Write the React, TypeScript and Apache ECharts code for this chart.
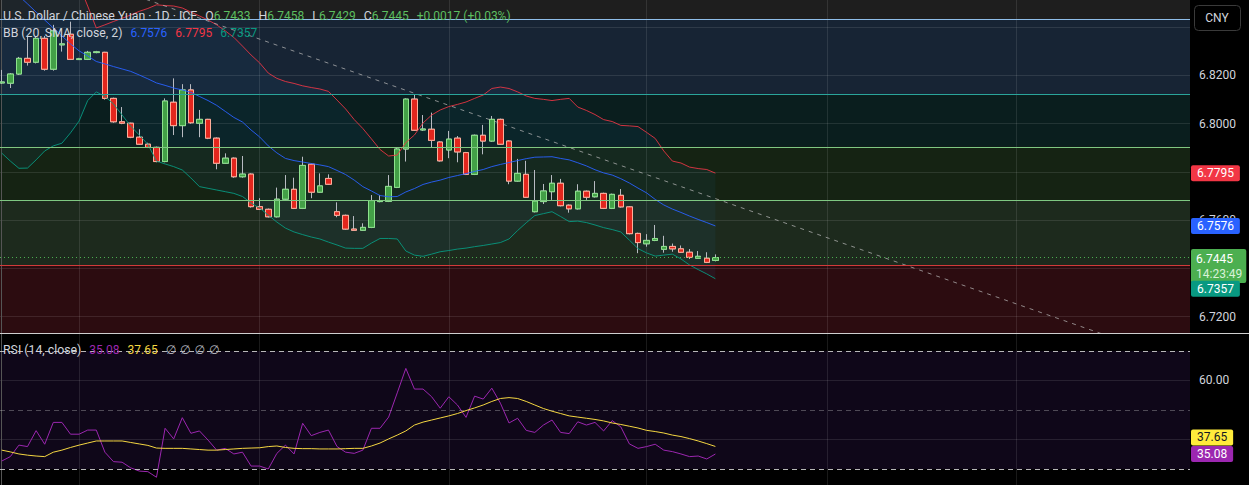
import React, { useEffect, useRef } from "react";
import * as echarts from "echarts";

// ---------- data ----------
const OPEN = [
  6.8169, 6.8168, 6.8206, 6.8271, 6.8255, 6.8354, 6.8226, 6.8327, 6.8371, 6.8266,
  6.8267, 6.8295, 6.8296, 6.8105, 6.8008, 6.8002, 6.7944, 6.7915, 6.7902, 6.7843,
  6.8089, 6.7992, 6.814, 6.8002, 6.8018, 6.794, 6.7836, 6.7857, 6.778, 6.7791,
  6.7656, 6.7645, 6.7614, 6.7687, 6.7728, 6.7649, 6.7832, 6.7716, 6.7773, 6.7635,
  6.762, 6.7563, 6.7558, 6.757, 6.7677, 6.7678, 6.7736, 6.7895, 6.8102, 6.7974,
  6.7977, 6.7924, 6.7891, 6.794, 6.788, 6.779, 6.7952, 6.7928, 6.8018, 6.7928,
  6.7762, 6.779, 6.7635, 6.7677, 6.7718, 6.7753, 6.7662, 6.7647, 6.772, 6.7697,
  6.7711, 6.7649, 6.7703, 6.7655, 6.7545, 6.7502, 6.7516, 6.7479, 6.7491, 6.7481,
  6.7467, 6.7442, 6.7442, 6.7433,
];
const CLOSE = [
  6.8173, 6.8206, 6.8271, 6.8255, 6.8354, 6.8226, 6.8385, 6.8331, 6.8267, 6.8269,
  6.8296, 6.8298, 6.8105, 6.8008, 6.8002, 6.7944, 6.7915, 6.7902, 6.7843, 6.8094,
  6.7992, 6.814, 6.8004, 6.8018, 6.794, 6.7836, 6.7857, 6.778, 6.7791, 6.7656,
  6.7645, 6.7614, 6.7687, 6.7728, 6.7649, 6.7827, 6.7716, 6.7742, 6.7749, 6.762,
  6.7563, 6.7558, 6.757, 6.7681, 6.7681, 6.774, 6.7895, 6.8102, 6.7973, 6.7978,
  6.7931, 6.7846, 6.7936, 6.7883, 6.779, 6.7952, 6.7928, 6.8018, 6.7915, 6.7762,
  6.7794, 6.7695, 6.7679, 6.7721, 6.7753, 6.766, 6.7647, 6.772, 6.7695, 6.7711,
  6.7649, 6.7707, 6.7655, 6.7544, 6.7507, 6.7516, 6.7524, 6.7491, 6.7481, 6.7467,
  6.7446, 6.745, 6.7425, 6.7445,
];
const LOW = [
  6.8165, 6.8148, 6.8202, 6.8241, 6.825, 6.822, 6.822, 6.8299, 6.8264, 6.8264,
  6.8264, 6.8292, 6.81, 6.8004, 6.7998, 6.794, 6.7912, 6.7899, 6.784, 6.784,
  6.7953, 6.7944, 6.8, 6.7944, 6.7936, 6.7811, 6.7833, 6.7776, 6.7776, 6.7652,
  6.7642, 6.7611, 6.7611, 6.7684, 6.7646, 6.7646, 6.7691, 6.7713, 6.7746, 6.7612,
  6.756, 6.7555, 6.7555, 6.7567, 6.7674, 6.7675, 6.7733, 6.7843, 6.797, 6.797,
  6.7902, 6.7843, 6.7857, 6.784, 6.7787, 6.7787, 6.7873, 6.7925, 6.7912, 6.7749,
  6.7759, 6.7692, 6.7632, 6.7667, 6.7684, 6.7657, 6.7631, 6.7644, 6.7684, 6.7694,
  6.7646, 6.7646, 6.7652, 6.7541, 6.7463, 6.749, 6.7513, 6.7465, 6.7469, 6.7464,
  6.7439, 6.7439, 6.7422, 6.7429,
];
const HIGH = [
  6.8223, 6.821, 6.8277, 6.8361, 6.836, 6.8364, 6.841, 6.8368, 6.8423, 6.8273,
  6.8302, 6.8302, 6.8298, 6.8108, 6.8069, 6.8004, 6.7977, 6.7921, 6.7905, 6.8105,
  6.8188, 6.8164, 6.8164, 6.8057, 6.802, 6.7943, 6.7877, 6.786, 6.7866, 6.7794,
  6.7691, 6.7648, 6.7735, 6.7787, 6.7776, 6.7863, 6.7835, 6.7794, 6.779, 6.7674,
  6.7623, 6.7617, 6.7587, 6.7704, 6.7704, 6.7787, 6.7902, 6.8105, 6.8122, 6.8036,
  6.8046, 6.7927, 6.797, 6.7949, 6.7883, 6.7955, 6.7995, 6.8032, 6.8021, 6.7931,
  6.7854, 6.7846, 6.7808, 6.775, 6.7787, 6.7771, 6.7665, 6.7749, 6.7723, 6.7762,
  6.7714, 6.771, 6.7729, 6.7658, 6.7548, 6.7542, 6.758, 6.7535, 6.7503, 6.7495,
  6.748, 6.7472, 6.7467, 6.7458,
];
const BB_BASIS = [
  6.8596, 6.8563, 6.853, 6.8497, 6.8463, 6.843, 6.8397, 6.8364, 6.8331, 6.8302,
  6.8281, 6.8258, 6.8248, 6.8237, 6.8227, 6.8217, 6.8202, 6.8186, 6.8169, 6.8159,
  6.8148, 6.814, 6.813, 6.8113, 6.8096, 6.8076, 6.8051, 6.8026, 6.8007, 6.7974,
  6.7945, 6.7908, 6.7879, 6.7856, 6.7847, 6.7841, 6.7835, 6.7829, 6.7822, 6.7806,
  6.7789, 6.7766, 6.7739, 6.7721, 6.7702, 6.7697, 6.7698, 6.7717, 6.7731, 6.7748,
  6.7758, 6.7766, 6.7777, 6.7785, 6.7793, 6.7802, 6.781, 6.7822, 6.7831, 6.7839,
  6.7847, 6.7855, 6.7861, 6.7862, 6.7863, 6.7856, 6.785, 6.7838, 6.7825, 6.7809,
  6.7796, 6.7787, 6.7772, 6.7754, 6.7733, 6.7713, 6.7686, 6.7663, 6.7646, 6.7632,
  6.7617, 6.7603, 6.759, 6.7576,
];
const BB_UPPER = [
  6.9327, 6.9281, 6.9219, 6.9177, 6.9053, 6.8949, 6.8887, 6.8808, 6.87, 6.8576,
  6.8488, 6.8397, 6.841, 6.8424, 6.8437, 6.8451, 6.8466, 6.8478, 6.8493, 6.849,
  6.8488, 6.848, 6.8463, 6.8447, 6.843, 6.841, 6.8385, 6.8358, 6.8322, 6.8285,
  6.8252, 6.821, 6.8188, 6.8175, 6.8167, 6.8157, 6.815, 6.8144, 6.8134, 6.8098,
  6.8061, 6.8017, 6.798, 6.7937, 6.7893, 6.7866, 6.787, 6.7922, 6.7953, 6.8003,
  6.8036, 6.8057, 6.8071, 6.808, 6.809, 6.8105, 6.8119, 6.8146, 6.8152, 6.8146,
  6.8132, 6.8115, 6.8105, 6.8101, 6.8096, 6.8101, 6.8105, 6.8069, 6.8055, 6.8038,
  6.8017, 6.8009, 6.7993, 6.7991, 6.7988, 6.7964, 6.7939, 6.7887, 6.7845, 6.7837,
  6.782, 6.7814, 6.781, 6.7795,
];
const BB_LOWER = [
  6.7878, 6.7845, 6.7815, 6.7816, 6.785, 6.7887, 6.7908, 6.7919, 6.7962, 6.8011,
  6.8096, 6.8132, 6.8113, 6.8082, 6.8036, 6.799, 6.7953, 6.7914, 6.7845, 6.7833,
  6.7822, 6.7808, 6.7775, 6.7739, 6.7732, 6.7725, 6.7718, 6.7711, 6.7698, 6.7671,
  6.765, 6.7621, 6.7592, 6.7567, 6.7551, 6.754, 6.753, 6.7522, 6.7509, 6.7497,
  6.7484, 6.7483, 6.7483, 6.7505, 6.7524, 6.7524, 6.7522, 6.7472, 6.7455, 6.745,
  6.7459, 6.7469, 6.7474, 6.748, 6.7484, 6.749, 6.7495, 6.7501, 6.7507, 6.7522,
  6.7557, 6.7589, 6.7619, 6.7627, 6.7635, 6.7615, 6.7594, 6.7596, 6.759, 6.758,
  6.7569, 6.7561, 6.7551, 6.7517, 6.7482, 6.7464, 6.7451, 6.7455, 6.7459, 6.7439,
  6.7414, 6.7395, 6.7377, 6.7357,
];
const RSI = [
  32.7, 34.2, 38.1, 37.6, 43.0, 38.4, 45.8, 45.8, 41.8, 41.8,
  43.2, 43.2, 35.7, 32.5, 32.3, 30.4, 29.3, 29.1, 27.2, 43.8,
  40.2, 47.4, 42.1, 42.9, 39.8, 36.4, 37.0, 35.1, 35.7, 31.0,
  31.0, 30.0, 35.3, 38.1, 35.1, 45.5, 41.3, 42.4, 43.2, 37.6,
  35.7, 35.3, 36.4, 43.8, 43.8, 47.6, 55.8, 64.1, 57.1, 57.1,
  54.5, 50.6, 54.5, 51.7, 47.5, 54.7, 53.7, 57.4, 52.3, 45.6,
  47.2, 43.1, 42.4, 44.9, 46.6, 42.4, 42.0, 46.0, 44.9, 45.8,
  42.9, 46.4, 44.3, 38.5, 37.0, 37.6, 38.4, 36.4, 35.9, 35.1,
  34.2, 34.4, 33.4, 35.08,
];
const RSI_MA = [
  36.4, 35.8, 35.1, 34.7, 34.4, 34.2, 35.7, 36.4, 37.3, 38.1,
  38.8, 39.5, 39.5, 39.5, 39.5, 39.0, 38.5, 38.0, 37.1, 37.0,
  37.0, 37.0, 36.8, 36.6, 36.4, 36.4, 36.6, 36.8, 37.0, 37.1,
  37.2, 37.6, 37.8, 37.3, 37.0, 36.9, 36.9, 36.8, 36.8, 36.8,
  36.9, 37.0, 37.0, 37.8, 38.8, 40.2, 41.5, 42.9, 44.9, 45.9,
  46.6, 47.3, 48.0, 48.8, 49.8, 50.7, 51.7, 52.9, 53.9, 54.2,
  53.9, 52.9, 51.7, 50.5, 49.6, 48.8, 48.0, 47.6, 47.2, 46.8,
  46.3, 45.6, 45.1, 44.5, 43.9, 43.1, 42.7, 42.2, 41.5, 41.0,
  40.3, 39.5, 38.6, 37.65,
];
const PRICE_TICKS = [6.72, 6.74, 6.76, 6.78, 6.8, 6.82, 6.84];
// tick labels visible in the picture (the others sit under the value tags)
const PRICE_LABELS = [6.72, 6.76, 6.8, 6.82];
const RSI_TICKS = [40, 60];
const RSI_LABELS = [60];
const RSI_BANDS = [70, 50, 30];
const MONTH_STARTS = [9, 30, 52, 75, 96, 118];
const FIB_LEVELS = [6.8434, 6.8123, 6.7904, 6.7684, 6.7414];
const TREND = [
  [0, 6.8725],
  [130, 6.7103],
];
const SYMBOL_TITLE = "U.S. Dollar / Chinese Yuan · 1D · ICE";
const BB_TITLE = "BB (20, SMA, close, 2)";
const RSI_TITLE = "RSI (14, close)";
const CHANGE_TEXT = "+0.0017 (+0.03%)";
const TIMER = "14:23:49";
const CURRENCY = "CNY";

// ---------- layout & style ----------
const W = 1249;
const H = 485;
const PLOT_W = 1190;
const MAIN_TOP = 0;
const MAIN_H = 333;
const RSI_TOP = 334;
const RSI_H = 151;
const Y_MIN = 6.7132;
const Y_MAX = 6.8513;
const R_MIN = 24.58;
const R_MAX = 75.76;
const X_MIN = -0.2;
const X_MAX = 138.2;
const PX_PRICE = (Y_MAX - Y_MIN) / MAIN_H;
const PX_RSI = (R_MAX - R_MIN) / RSI_H;

const FONT = 'Roboto, "Noto Sans", "DejaVu Sans", sans-serif';
const GRID_COLOR = "rgba(255,255,255,0.1)";
const TEXT = "#d1d4dc";
const NONE = "rgba(0,0,0,0)";
const FIB_COLORS = ["#8fbde8", "#2aa59b", "#7fc882", "#7fc882", "#d23a3a"];
const ZONE_FILLS = ["#172434", "#0a1e1e", "#152313", "#1d2a1d", "#2c0c10"];
const UP = "#4caf50";
const C_UPPER = "#f23645";
const C_BASIS = "#2962ff";
const C_LOWER = "#089981";
const C_RSI = "#9c27b0";
const C_RSI_MA = "#f5d742";
const WORD_SIZE = 12.3;
const NUM_SIZE = 12;

const pairs = (arr: number[]) => arr.map((v, i) => [i, v]);

function buildOption() {
  const last = OPEN.length - 1;
  const candleFull = OPEN.map((o, i) => [i, o, CLOSE[i], LOW[i], HIGH[i]]);
  const candleBody = OPEN.map((o, i) => [
    i,
    o,
    CLOSE[i],
    Math.min(o, CLOSE[i]),
    Math.max(o, CLOSE[i]),
  ]);

  const zoneBounds = [...FIB_LEVELS, Y_MIN];
  const zones = ZONE_FILLS.map((c, k) => [
    { yAxis: zoneBounds[k + 1], itemStyle: { color: c } },
    { yAxis: zoneBounds[k] },
  ]);
  const fibLines = FIB_LEVELS.map((v, k) => ({
    yAxis: v,
    lineStyle: { color: FIB_COLORS[k], width: 1, type: "solid" },
    label: { show: false },
  }));

  const tag = (
    text: string,
    at: number,
    bg: string,
    fg = "#ffffff",
    extra: any = {}
  ) => ({
    yAxis: at,
    lineStyle: { color: NONE, width: 0 },
    label: {
      show: true,
      position: "end",
      distance: 1,
      formatter: text,
      backgroundColor: bg,
      color: fg,
      opacity: 1,
      fontFamily: FONT,
      fontSize: 12,
      lineHeight: 14,
      padding: [1, 6, 1, 6],
      borderRadius: 2,
      ...extra,
    },
  });

  const xAxisCfg = (gridIndex: number) => ({
    type: "value",
    gridIndex,
    min: X_MIN,
    max: X_MAX,
    axisLine: { show: false },
    axisLabel: { show: false },
    axisTick: { show: false, customValues: MONTH_STARTS },
    splitLine: { show: true, lineStyle: { color: GRID_COLOR, width: 1 } },
    z: 1.5,
  });

  const lastClose = CLOSE[last];
  const numRich = (fill: string) => ({ fill, fontSize: NUM_SIZE, fontFamily: FONT });
  const wordRich = (fill: string) => ({ fill, fontSize: WORD_SIZE, fontFamily: FONT });

  return {
    animation: false,
    backgroundColor: "#000000",
    grid: [
      {
        left: 0,
        top: MAIN_TOP,
        width: PLOT_W,
        height: MAIN_H,
        show: true,
        backgroundColor: "#1e1e1e",
        borderWidth: 0,
      },
      {
        left: 0,
        top: RSI_TOP,
        width: PLOT_W,
        height: RSI_H,
        show: true,
        backgroundColor: "#000000",
        borderWidth: 0,
      },
    ],
    xAxis: [xAxisCfg(0), xAxisCfg(1)],
    yAxis: [
      {
        type: "value",
        gridIndex: 0,
        position: "right",
        min: Y_MIN,
        max: Y_MAX,
        axisLine: { show: true, lineStyle: { color: "#555555" } },
        axisTick: { show: false, customValues: PRICE_TICKS },
        axisLabel: {
          show: true,
          customValues: PRICE_LABELS,
          formatter: (v: number) => v.toFixed(4),
          color: TEXT,
          fontFamily: FONT,
          fontSize: 12,
          margin: 9,
        },
        splitLine: { show: true, lineStyle: { color: GRID_COLOR } },
        z: 1.5,
      },
      {
        type: "value",
        gridIndex: 1,
        position: "right",
        min: R_MIN,
        max: R_MAX,
        axisLine: { show: true, lineStyle: { color: "#555555" } },
        axisTick: { show: false, customValues: RSI_TICKS },
        axisLabel: {
          show: true,
          customValues: RSI_LABELS,
          formatter: (v: number) => v.toFixed(2),
          color: TEXT,
          fontFamily: FONT,
          fontSize: 12,
          margin: 9,
        },
        splitLine: { show: true, lineStyle: { color: GRID_COLOR } },
        z: 1.5,
      },
    ],
    series: [
      {
        name: "zones",
        type: "line",
        xAxisIndex: 0,
        yAxisIndex: 0,
        data: [],
        symbol: "none",
        silent: true,
        markArea: { silent: true, precision: 6, data: zones },
        markLine: {
          silent: true,
          precision: 6,
          symbol: ["none", "none"],
          label: { show: false },
          data: fibLines,
        },
      },
      {
        name: "bbFill",
        type: "custom",
        xAxisIndex: 0,
        yAxisIndex: 0,
        clip: true,
        silent: true,
        data: pairs(BB_BASIS),
        encode: { x: 0, y: 1 },
        renderItem: (params: any, api: any) => {
          if (params.dataIndex !== 0) return null;
          const top = BB_UPPER.map((v, i) => api.coord([i, v]));
          const bottom = BB_LOWER.map((v, i) => api.coord([i, v])).reverse();
          return {
            type: "polygon",
            shape: { points: top.concat(bottom) },
            style: { fill: "rgba(33,150,243,0.06)" },
          };
        },
      },
      {
        name: "upper",
        type: "line",
        data: pairs(BB_UPPER),
        symbol: "none",
        silent: true,
        lineStyle: { color: C_UPPER, width: 1, opacity: 0.85 },
      },
      {
        name: "basis",
        type: "line",
        data: pairs(BB_BASIS),
        symbol: "none",
        silent: true,
        lineStyle: { color: C_BASIS, width: 1, opacity: 0.9 },
      },
      {
        name: "lower",
        type: "line",
        data: pairs(BB_LOWER),
        symbol: "none",
        silent: true,
        lineStyle: { color: C_LOWER, width: 1, opacity: 0.9 },
      },
      {
        name: "wicks",
        type: "candlestick",
        data: candleFull,
        barWidth: 6,
        silent: true,
        itemStyle: {
          color: "#43a047",
          color0: "#e3261d",
          borderColor: "#b8bbc2",
          borderColor0: "#b8bbc2",
          borderWidth: 1,
        },
      },
      {
        name: "bodies",
        type: "candlestick",
        data: candleBody,
        barWidth: 6,
        silent: true,
        itemStyle: {
          color: "#43a047",
          color0: "#e3261d",
          borderColor: "#8de28d",
          borderColor0: "#ffae9a",
          borderWidth: 1,
        },
      },
      {
        name: "trend",
        type: "line",
        data: TREND,
        symbol: "none",
        silent: true,
        lineStyle: { color: "rgba(190,190,190,0.7)", width: 1, type: [4, 5] },
      },
      {
        name: "priceTags",
        type: "line",
        data: [[last, lastClose]],
        symbol: "none",
        showSymbol: false,
        clip: false,
        silent: true,
        lineStyle: { color: NONE, width: 0 },
        markLine: {
          silent: true,
          precision: 6,
          symbol: ["none", "none"],
          data: [
            {
              yAxis: lastClose,
              lineStyle: { color: UP, width: 1, type: [1, 3] },
              label: { show: false },
            },
            tag(BB_UPPER[last].toFixed(4), BB_UPPER[last], C_UPPER),
            tag(BB_BASIS[last].toFixed(4), BB_BASIS[last], C_BASIS),
            tag(
              `{a|${lastClose.toFixed(4)}}\n{b|${TIMER}}`,
              lastClose - 8.5 * PX_PRICE,
              UP,
              "#ffffff",
              {
                padding: [2, 4, 2, 5],
                rich: {
                  a: { color: "#ffffff", fontSize: 12, fontFamily: FONT, lineHeight: 15 },
                  b: { color: "#d9f2d9", fontSize: 12, fontFamily: FONT, lineHeight: 15 },
                },
              }
            ),
            tag(BB_LOWER[last].toFixed(4), BB_LOWER[last] - 10 * PX_PRICE, C_LOWER),
          ],
        },
      },
      {
        name: "rsiBand",
        type: "line",
        xAxisIndex: 1,
        yAxisIndex: 1,
        data: [],
        symbol: "none",
        silent: true,
        markArea: {
          silent: true,
          precision: 4,
          data: [
            [
              { yAxis: RSI_BANDS[2], itemStyle: { color: "#0f0719" } },
              { yAxis: RSI_BANDS[0] },
            ],
          ],
        },
      },
      {
        name: "RSI",
        type: "line",
        xAxisIndex: 1,
        yAxisIndex: 1,
        data: pairs(RSI),
        symbol: "none",
        silent: true,
        lineStyle: { color: C_RSI, width: 1 },
      },
      {
        name: "RSI MA",
        type: "line",
        xAxisIndex: 1,
        yAxisIndex: 1,
        data: pairs(RSI_MA),
        symbol: "none",
        silent: true,
        lineStyle: { color: C_RSI_MA, width: 1 },
      },
      {
        name: "rsiTags",
        type: "line",
        xAxisIndex: 1,
        yAxisIndex: 1,
        data: [[last, RSI[last]]],
        symbol: "none",
        showSymbol: false,
        clip: false,
        silent: true,
        lineStyle: { color: NONE, width: 0 },
        markLine: {
          silent: true,
          precision: 4,
          symbol: ["none", "none"],
          data: [
            ...RSI_BANDS.map((v, k) => ({
              yAxis: v,
              lineStyle: {
                color: k === 1 ? "rgba(200,200,200,0.35)" : "rgba(215,215,215,0.85)",
                width: 1,
                type: [5, 4],
              },
              label: { show: false },
            })),
            tag(RSI_MA[last].toFixed(2), RSI_MA[last] + 9 * PX_RSI, "#ffeb3b", "#131722"),
            tag(RSI[last].toFixed(2), RSI[last], C_RSI),
          ],
        },
      },
    ],
    graphic: [
      {
        type: "text",
        x: 3,
        y: 16,
        z: 20,
        silent: true,
        style: {
          text:
            `{t|${SYMBOL_TITLE}}{s| }{k|O}{v|${OPEN[last].toFixed(4)}}{s| }` +
            `{k|H}{v|${HIGH[last].toFixed(4)}}{s| }{k|L}{v|${LOW[last].toFixed(4)}}{s| }` +
            `{k|C}{v|${CLOSE[last].toFixed(4)}}{s| }{v|${CHANGE_TEXT}}`,
          fontFamily: FONT,
          fontSize: WORD_SIZE,
          verticalAlign: "middle",
          fill: TEXT,
          rich: {
            t: wordRich(TEXT),
            k: wordRich(TEXT),
            v: numRich("#5cbf60"),
            s: { width: 8, fontSize: 12 },
          },
        },
      },
      {
        type: "text",
        x: 3,
        y: 33,
        z: 20,
        silent: true,
        style: {
          text:
            `{t|${BB_TITLE}}{s| }{b|${BB_BASIS[last].toFixed(4)}}{s| }` +
            `{r|${BB_UPPER[last].toFixed(4)}}{s| }{g|${BB_LOWER[last].toFixed(4)}}`,
          fontFamily: FONT,
          fontSize: WORD_SIZE,
          verticalAlign: "middle",
          fill: TEXT,
          rich: {
            t: wordRich(TEXT),
            b: numRich(C_BASIS),
            r: numRich(C_UPPER),
            g: numRich(C_LOWER),
            s: { width: 8, fontSize: 12 },
          },
        },
      },
      {
        type: "text",
        x: 3,
        y: 350,
        z: 20,
        silent: true,
        style: {
          text:
            `{t|${RSI_TITLE}}{s| }{p|${RSI[last].toFixed(2)}}{s| }` +
            `{y|${RSI_MA[last].toFixed(2)}}{s| }{n|∅}{g| }{n|∅}{g| }{n|∅}{g| }{n|∅}`,
          fontFamily: FONT,
          fontSize: WORD_SIZE,
          verticalAlign: "middle",
          fill: TEXT,
          rich: {
            t: wordRich(TEXT),
            p: numRich(C_RSI),
            y: numRich(C_RSI_MA),
            n: numRich("#b2b5be"),
            s: { width: 8, fontSize: 12 },
            g: { width: 4, fontSize: 12 },
          },
        },
      },
      {
        type: "line",
        z: 20,
        silent: true,
        shape: { x1: 0, y1: 333.5, x2: W, y2: 333.5 },
        style: { stroke: "#cfcfcf", lineWidth: 1 },
      },
      {
        type: "rect",
        z: 20,
        silent: true,
        shape: { x: 1194.5, y: 5.5, width: 46, height: 25, r: 4 },
        style: { fill: "#000000", stroke: "#3a3a3a", lineWidth: 1 },
      },
      {
        type: "text",
        z: 21,
        silent: true,
        x: 1217,
        y: 18,
        style: {
          text: CURRENCY,
          fill: TEXT,
          fontFamily: FONT,
          fontSize: 12,
          align: "center",
          verticalAlign: "middle",
        },
      },
    ],
  };
}

export default function App() {
  const ref = useRef<HTMLDivElement>(null);
  useEffect(() => {
    if (!ref.current) return;
    const chart = echarts.init(ref.current, null, { renderer: "svg" });
    chart.setOption(buildOption() as any);
    return () => chart.dispose();
  }, []);
  return (
    <div
      ref={ref}
      style={{
        position: "fixed",
        left: 0,
        top: 0,
        width: W,
        height: H,
        background: "#000000",
      }}
    />
  );
}
